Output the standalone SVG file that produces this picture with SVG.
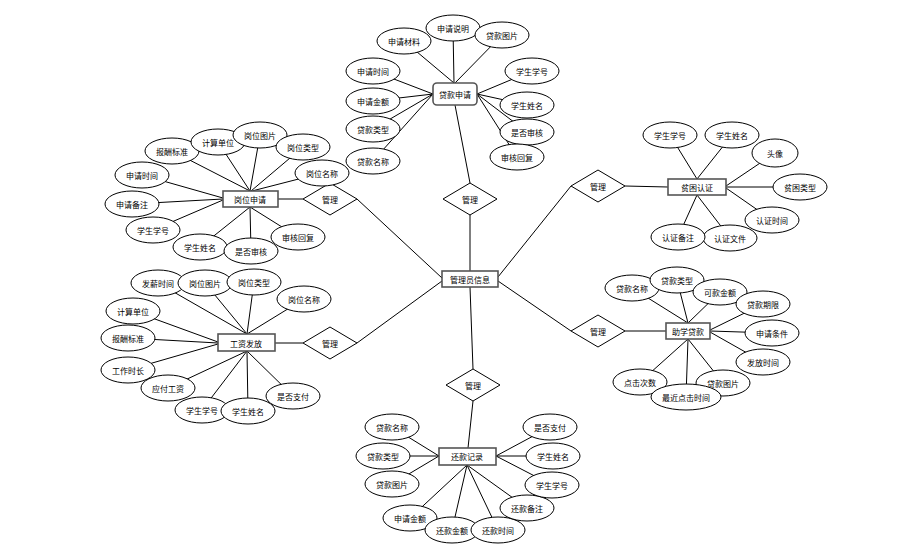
<svg xmlns="http://www.w3.org/2000/svg" width="909" height="556" viewBox="0 0 909 556">
<style>
.bg{fill:#fff}
.e{fill:#fff;stroke:#000;stroke-width:1}
.r{fill:#fff;stroke:#555;stroke-width:1.6}
.d{fill:#fff;stroke:#000;stroke-width:1}
.c line{stroke:#000;stroke-width:1}
text{font-family:"Noto Sans CJK SC","Liberation Sans",sans-serif;font-size:8px;fill:#000;text-anchor:middle;dominant-baseline:central}
</style>
<rect class="bg" width="909" height="556"/>
<g id="connectors" class="c">
<!-- A 贷款申请 -->
<line x1="404" y1="41" x2="454" y2="83"/>
<line x1="453" y1="28" x2="454" y2="83"/>
<line x1="502" y1="35" x2="455" y2="83"/>
<line x1="373" y1="71" x2="433" y2="94"/>
<line x1="373" y1="101" x2="433" y2="94"/>
<line x1="373" y1="129" x2="433" y2="94"/>
<line x1="373" y1="161" x2="433" y2="94"/>
<line x1="532" y1="71" x2="477" y2="94"/>
<line x1="527" y1="105" x2="477" y2="94"/>
<line x1="527" y1="132" x2="477" y2="94"/>
<line x1="517" y1="157" x2="477" y2="94"/>
<line x1="455" y1="105" x2="470" y2="183"/>
<line x1="470" y1="215" x2="470" y2="271"/>
<!-- B 岗位申请 -->
<line x1="172" y1="151" x2="250" y2="191"/>
<line x1="218" y1="142" x2="250" y2="191"/>
<line x1="260" y1="135" x2="250" y2="191"/>
<line x1="303" y1="147" x2="251" y2="191"/>
<line x1="322" y1="173" x2="252" y2="191"/>
<line x1="142" y1="175" x2="223" y2="198"/>
<line x1="132" y1="204" x2="223" y2="199"/>
<line x1="153" y1="230" x2="223" y2="200"/>
<line x1="200" y1="247" x2="250" y2="207"/>
<line x1="251" y1="251" x2="250" y2="207"/>
<line x1="298" y1="237" x2="250" y2="207"/>
<line x1="278" y1="199" x2="303" y2="199"/>
<line x1="357" y1="199" x2="442" y2="278"/>
<!-- C 贫困认证 -->
<line x1="670" y1="135" x2="697" y2="179"/>
<line x1="732" y1="135" x2="697" y2="179"/>
<line x1="775" y1="153" x2="726" y2="186"/>
<line x1="800" y1="187" x2="726" y2="187"/>
<line x1="772" y1="220" x2="726" y2="188"/>
<line x1="730" y1="238" x2="697" y2="195"/>
<line x1="678" y1="237" x2="697" y2="195"/>
<line x1="625" y1="186" x2="668" y2="187"/>
<line x1="571" y1="186" x2="498" y2="277"/>
<!-- D 工资发放 -->
<line x1="158" y1="283" x2="247" y2="334"/>
<line x1="205" y1="283" x2="247" y2="334"/>
<line x1="254" y1="282" x2="247" y2="334"/>
<line x1="304" y1="299" x2="247" y2="334"/>
<line x1="133" y1="311" x2="218" y2="342"/>
<line x1="128" y1="338" x2="218" y2="343"/>
<line x1="128" y1="370" x2="218" y2="344"/>
<line x1="168" y1="388" x2="247" y2="351"/>
<line x1="202" y1="410" x2="247" y2="351"/>
<line x1="248" y1="411" x2="247" y2="351"/>
<line x1="293" y1="396" x2="247" y2="351"/>
<line x1="275" y1="343" x2="303" y2="343"/>
<line x1="357" y1="343" x2="442" y2="281"/>
<!-- E 助学贷款 -->
<line x1="632" y1="288" x2="688" y2="323"/>
<line x1="677" y1="280" x2="688" y2="323"/>
<line x1="720" y1="292" x2="688" y2="323"/>
<line x1="763" y1="304" x2="710" y2="330"/>
<line x1="772" y1="333" x2="710" y2="331"/>
<line x1="763" y1="362" x2="710" y2="332"/>
<line x1="723" y1="383" x2="688" y2="339"/>
<line x1="686" y1="397" x2="688" y2="339"/>
<line x1="640" y1="382" x2="688" y2="339"/>
<line x1="625" y1="331" x2="666" y2="331"/>
<line x1="571" y1="331" x2="498" y2="281"/>
<!-- F 还款记录 -->
<line x1="392" y1="427" x2="439" y2="456"/>
<line x1="383" y1="456" x2="439" y2="456"/>
<line x1="392" y1="484" x2="439" y2="456"/>
<line x1="410" y1="518" x2="467" y2="465"/>
<line x1="452" y1="530" x2="467" y2="465"/>
<line x1="498" y1="530" x2="467" y2="465"/>
<line x1="527" y1="508" x2="467" y2="465"/>
<line x1="552" y1="485" x2="496" y2="456"/>
<line x1="553" y1="456" x2="496" y2="456"/>
<line x1="550" y1="427" x2="496" y2="456"/>
<line x1="470" y1="287" x2="473" y2="369"/>
<line x1="473" y1="401" x2="468" y2="448"/>
</g>

<g id="admin"><rect class="r" x="442" y="271" width="56" height="16"/><text x="470" y="279">管理员信息</text></g>

<g id="rel-loanapply"><polygon class="d" points="443,199 470,183 497,199 470,215"/><text x="470" y="199">管理</text></g>
<g id="rel-jobapply"><polygon class="d" points="303,199 330,183 357,199 330,215"/><text x="330" y="199">管理</text></g>
<g id="rel-poverty"><polygon class="d" points="571,186 598,170 625,186 598,202"/><text x="598" y="186">管理</text></g>
<g id="rel-salary"><polygon class="d" points="303,343 330,327 357,343 330,359"/><text x="330" y="343">管理</text></g>
<g id="rel-loan"><polygon class="d" points="571,331 598,315 625,331 598,347"/><text x="598" y="331">管理</text></g>
<g id="rel-repay"><polygon class="d" points="446,385 473,369 500,385 473,401"/><text x="473" y="385">管理</text></g>

<!-- 贷款申请 -->
<g id="loanapply">
<rect class="r" x="433" y="83" width="44" height="22" rx="4"/><text x="455" y="94">贷款申请</text>
</g>
<g id="loanapply-attrs">
<ellipse class="e" cx="404" cy="41" rx="27" ry="13"/><text x="404" y="41">申请材料</text>
<ellipse class="e" cx="453" cy="28" rx="27" ry="13"/><text x="453" y="28">申请说明</text>
<ellipse class="e" cx="502" cy="35" rx="27" ry="13"/><text x="502" y="35">贷款图片</text>
<ellipse class="e" cx="373" cy="71" rx="27" ry="13"/><text x="373" y="71">申请时间</text>
<ellipse class="e" cx="373" cy="101" rx="27" ry="13"/><text x="373" y="101">申请金额</text>
<ellipse class="e" cx="373" cy="129" rx="27" ry="13"/><text x="373" y="129">贷款类型</text>
<ellipse class="e" cx="373" cy="161" rx="27" ry="13"/><text x="373" y="161">贷款名称</text>
<ellipse class="e" cx="532" cy="71" rx="27" ry="13"/><text x="532" y="71">学生学号</text>
<ellipse class="e" cx="527" cy="105" rx="27" ry="13"/><text x="527" y="105">学生姓名</text>
<ellipse class="e" cx="527" cy="132" rx="27" ry="13"/><text x="527" y="132">是否审核</text>
<ellipse class="e" cx="517" cy="157" rx="27" ry="13"/><text x="517" y="157">审核回复</text>
</g>

<!-- 岗位申请 -->
<g id="jobapply">
<rect class="r" x="223" y="191" width="55" height="16"/><text x="250" y="199">岗位申请</text>
</g>
<g id="jobapply-attrs">
<ellipse class="e" cx="172" cy="151" rx="27" ry="13"/><text x="172" y="151">报酬标准</text>
<ellipse class="e" cx="218" cy="142" rx="27" ry="13"/><text x="218" y="142">计算单位</text>
<ellipse class="e" cx="260" cy="135" rx="27" ry="13"/><text x="260" y="135">岗位图片</text>
<ellipse class="e" cx="303" cy="147" rx="27" ry="13"/><text x="303" y="147">岗位类型</text>
<ellipse class="e" cx="322" cy="173" rx="27" ry="13"/><text x="322" y="173">岗位名称</text>
<ellipse class="e" cx="142" cy="175" rx="27" ry="13"/><text x="142" y="175">申请时间</text>
<ellipse class="e" cx="132" cy="204" rx="27" ry="13"/><text x="132" y="204">申请备注</text>
<ellipse class="e" cx="153" cy="230" rx="27" ry="13"/><text x="153" y="230">学生学号</text>
<ellipse class="e" cx="200" cy="247" rx="27" ry="13"/><text x="200" y="247">学生姓名</text>
<ellipse class="e" cx="251" cy="251" rx="27" ry="13"/><text x="251" y="251">是否审核</text>
<ellipse class="e" cx="298" cy="237" rx="27" ry="13"/><text x="298" y="237">审核回复</text>
</g>

<!-- 贫困认证 -->
<g id="poverty">
<rect class="r" x="668" y="179" width="58" height="16"/><text x="697" y="187">贫困认证</text>
</g>
<g id="poverty-attrs">
<ellipse class="e" cx="670" cy="135" rx="27" ry="13"/><text x="670" y="135">学生学号</text>
<ellipse class="e" cx="732" cy="135" rx="27" ry="13"/><text x="732" y="135">学生姓名</text>
<ellipse class="e" cx="775" cy="153" rx="23" ry="14"/><text x="775" y="153">头像</text>
<ellipse class="e" cx="800" cy="187" rx="27" ry="13"/><text x="800" y="187">贫困类型</text>
<ellipse class="e" cx="772" cy="220" rx="27" ry="13"/><text x="772" y="220">认证时间</text>
<ellipse class="e" cx="730" cy="238" rx="27" ry="13"/><text x="730" y="238">认证文件</text>
<ellipse class="e" cx="678" cy="237" rx="27" ry="13"/><text x="678" y="237">认证备注</text>
</g>

<!-- 工资发放 -->
<g id="salary">
<rect class="r" x="218" y="334" width="57" height="17"/><text x="246" y="343">工资发放</text>
</g>
<g id="salary-attrs">
<ellipse class="e" cx="158" cy="283" rx="27" ry="13"/><text x="158" y="283">发薪时间</text>
<ellipse class="e" cx="205" cy="283" rx="27" ry="13"/><text x="205" y="283">岗位图片</text>
<ellipse class="e" cx="254" cy="282" rx="27" ry="13"/><text x="254" y="282">岗位类型</text>
<ellipse class="e" cx="304" cy="299" rx="27" ry="13"/><text x="304" y="299">岗位名称</text>
<ellipse class="e" cx="133" cy="311" rx="27" ry="13"/><text x="133" y="311">计算单位</text>
<ellipse class="e" cx="128" cy="338" rx="27" ry="13"/><text x="128" y="338">报酬标准</text>
<ellipse class="e" cx="128" cy="370" rx="27" ry="13"/><text x="128" y="370">工作时长</text>
<ellipse class="e" cx="168" cy="388" rx="27" ry="13"/><text x="168" y="388">应付工资</text>
<ellipse class="e" cx="202" cy="410" rx="27" ry="13"/><text x="202" y="410">学生学号</text>
<ellipse class="e" cx="248" cy="411" rx="27" ry="13"/><text x="248" y="411">学生姓名</text>
<ellipse class="e" cx="293" cy="396" rx="27" ry="13"/><text x="293" y="396">是否支付</text>
</g>

<!-- 助学贷款 -->
<g id="loan">
<rect class="r" x="666" y="323" width="44" height="16"/><text x="688" y="331">助学贷款</text>
</g>
<g id="loan-attrs">
<ellipse class="e" cx="632" cy="288" rx="27" ry="13"/><text x="632" y="288">贷款名称</text>
<ellipse class="e" cx="677" cy="280" rx="27" ry="13"/><text x="677" y="280">贷款类型</text>
<ellipse class="e" cx="720" cy="292" rx="27" ry="13"/><text x="720" y="292">可款金额</text>
<ellipse class="e" cx="763" cy="304" rx="27" ry="13"/><text x="763" y="304">贷款期限</text>
<ellipse class="e" cx="772" cy="333" rx="27" ry="13"/><text x="772" y="333">申请条件</text>
<ellipse class="e" cx="763" cy="362" rx="27" ry="13"/><text x="763" y="362">发放时间</text>
<ellipse class="e" cx="640" cy="382" rx="27" ry="13"/><text x="640" y="382">点击次数</text>
<ellipse class="e" cx="723" cy="383" rx="27" ry="13"/><text x="723" y="383">贷款图片</text>
<ellipse class="e" cx="686" cy="397" rx="35" ry="13"/><text x="686" y="397">最近点击时间</text>
</g>

<!-- 还款记录 -->
<g id="repay">
<rect class="r" x="439" y="448" width="57" height="17"/><text x="467" y="456">还款记录</text>
</g>
<g id="repay-attrs">
<ellipse class="e" cx="392" cy="427" rx="27" ry="13"/><text x="392" y="427">贷款名称</text>
<ellipse class="e" cx="383" cy="456" rx="27" ry="13"/><text x="383" y="456">贷款类型</text>
<ellipse class="e" cx="392" cy="484" rx="27" ry="13"/><text x="392" y="484">贷款图片</text>
<ellipse class="e" cx="410" cy="518" rx="27" ry="13"/><text x="410" y="518">申请金额</text>
<ellipse class="e" cx="452" cy="530" rx="27" ry="13"/><text x="452" y="530">还款金额</text>
<ellipse class="e" cx="498" cy="530" rx="27" ry="13"/><text x="498" y="530">还款时间</text>
<ellipse class="e" cx="527" cy="508" rx="27" ry="13"/><text x="527" y="508">还款备注</text>
<ellipse class="e" cx="552" cy="485" rx="27" ry="13"/><text x="552" y="485">学生学号</text>
<ellipse class="e" cx="553" cy="456" rx="27" ry="13"/><text x="553" y="456">学生姓名</text>
<ellipse class="e" cx="550" cy="427" rx="27" ry="13"/><text x="550" y="427">是否支付</text>
</g>
</svg>
